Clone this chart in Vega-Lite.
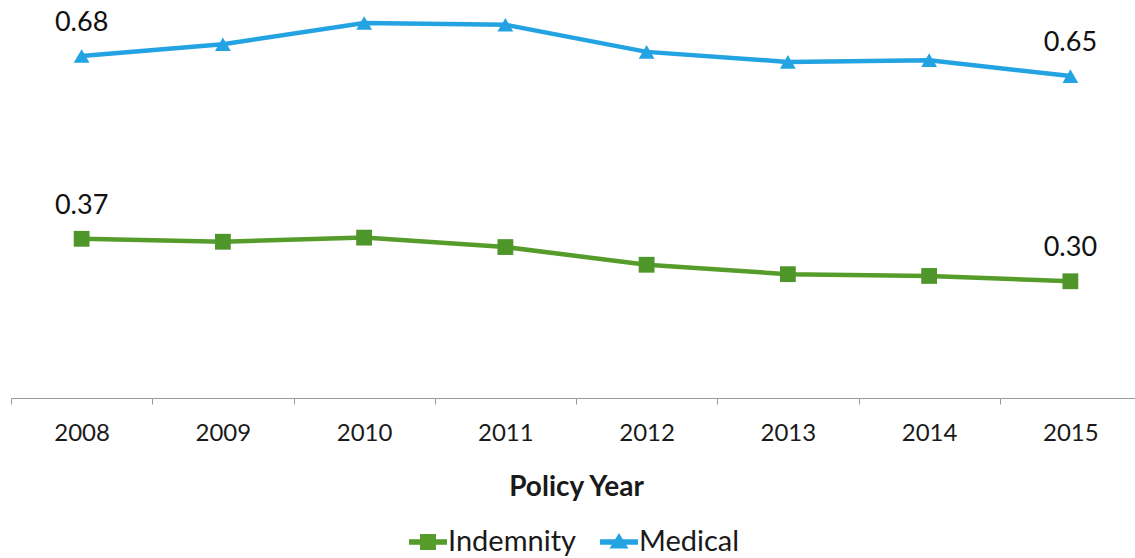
{
  "$schema": "https://vega.github.io/schema/vega-lite/v6.json",
  "autosize": {"type": "none"},
  "width": 1124,
  "height": 398,
  "padding": {"left": 11, "top": 0, "right": 0, "bottom": 160},
  "background": "white",
  "config": {"view": {"stroke": null}, "font": "Lato"},
  "data": {
    "values": [
      {"year": "2008", "series": "Indemnity", "value": 0.370},
      {"year": "2009", "series": "Indemnity", "value": 0.365},
      {"year": "2010", "series": "Indemnity", "value": 0.372},
      {"year": "2011", "series": "Indemnity", "value": 0.356},
      {"year": "2012", "series": "Indemnity", "value": 0.326},
      {"year": "2013", "series": "Indemnity", "value": 0.310},
      {"year": "2014", "series": "Indemnity", "value": 0.307},
      {"year": "2015", "series": "Indemnity", "value": 0.298},
      {"year": "2008", "series": "Medical", "value": 0.680},
      {"year": "2009", "series": "Medical", "value": 0.700},
      {"year": "2010", "series": "Medical", "value": 0.736},
      {"year": "2011", "series": "Medical", "value": 0.733},
      {"year": "2012", "series": "Medical", "value": 0.687},
      {"year": "2013", "series": "Medical", "value": 0.670},
      {"year": "2014", "series": "Medical", "value": 0.673},
      {"year": "2015", "series": "Medical", "value": 0.646}
    ]
  },
  "encoding": {
    "x": {
      "field": "year", "type": "ordinal", "bandPosition": 0.5,
      "scale": {"type": "band", "paddingInner": 0, "paddingOuter": 0, "range": [0, 1130]},
      "axis": {
        "title": "Policy Year", "labelAngle": 0, "labelFontSize": 24, "labelColor": "#1a1a1a",
        "labelPadding": 17, "tickBand": "extent", "tickSize": 6, "tickColor": "#9a9a9a",
        "domainColor": "#9a9a9a", "domainWidth": 1, "grid": false,
        "titleFontSize": 28, "titleFontWeight": "bold", "titleColor": "#1a1a1a", "titlePadding": 28
      }
    },
    "y": {
      "field": "value", "type": "quantitative",
      "scale": {"domain": [0.1, 0.775], "zero": false, "nice": false},
      "axis": null
    }
  },
  "layer": [
    {
      "mark": {"type": "line", "strokeWidth": 4.5},
      "encoding": {
        "color": {
          "field": "series", "type": "nominal",
          "scale": {"domain": ["Indemnity", "Medical"], "range": ["#559c2b", "#24a3e3"]},
          "legend": {
            "title": null, "orient": "none", "direction": "horizontal",
            "legendX": 398, "legendY": 523,
            "labelFontSize": 29, "labelColor": "#1a1a1a", "labelOffset": 1,
            "symbolSize": 1444, "columnPadding": 24, "symbolStrokeWidth": 0,
            "encode": {
              "symbols": {
                "update": {
                  "shape": {"signal": "datum.value === 'Indemnity' ? 'M-1,-0.14L1,-0.14L1,0.14L-1,0.14Z M-0.42,-0.42L0.42,-0.42L0.42,0.42L-0.42,0.42Z' : 'M-1,-0.14L1,-0.14L1,0.14L-1,0.14Z M0,-0.47L0.5,0.34L-0.5,0.34Z'"},
                  "fill": {"signal": "datum.value === 'Indemnity' ? '#559c2b' : '#24a3e3'"},
                  "stroke": {"value": "transparent"},
                  "strokeWidth": {"value": 0},
                  "opacity": {"value": 1}
                }
              }
            }
          }
        }
      }
    },
    {
      "transform": [{"filter": "datum.series === 'Indemnity'"}],
      "mark": {"type": "point", "shape": "square", "filled": true, "opacity": 1, "size": 250, "color": "#4f962a"}
    },
    {
      "transform": [{"filter": "datum.series === 'Medical'"}],
      "mark": {"type": "point", "shape": "triangle-up", "filled": true, "opacity": 1, "size": 250, "color": "#24a3e3"}
    },
    {
      "transform": [{"filter": "datum.year === '2008' || datum.year === '2015'"}],
      "mark": {"type": "text", "fontSize": 27, "dy": -33, "baseline": "middle", "align": "center", "color": "#111111"},
      "encoding": {
        "text": {"field": "value", "type": "quantitative", "format": ".2f"}
      }
    }
  ]
}
